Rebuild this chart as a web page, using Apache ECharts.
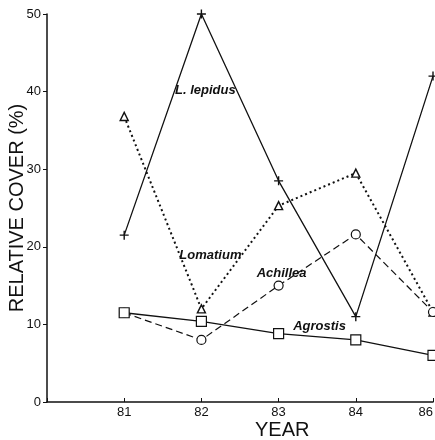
<!DOCTYPE html>
<html>
<head>
<meta charset="utf-8">
<script src="https://cdn.jsdelivr.net/npm/echarts@6/dist/echarts.min.js"></script>
<style>
  html, body { margin: 0; padding: 0; background: #fff; }
  #chart { width: 435px; height: 440px; }
</style>
</head>
<body>
<div id="chart"></div>
<script>
// years (first slot is the empty stretch before 81)
const years = ['', '81', '82', '83', '84', '86']
const lepidus = [null, 21.5, 50, 28.5, 11, 42]
const lomatium = [null, 36.8, 12, 25.3, 29.5, 11.6]
const achillea = [null, 11.5, 8, 15, 21.6, 11.6]
const agrostis = [null, 11.5, 10.4, 8.8, 8.0, 6.0]
const yTicks = [0, 10, 20, 30, 40, 50]

const ink = '#111'
const labelFont = { fontFamily: 'Liberation Sans', fontWeight: 'bold', fontStyle: 'italic', fontSize: 13, color: ink }

// series name label placed in data space
const tag = (text, coord, offset) => ({
  symbol: 'circle',
  symbolSize: 1,
  silent: true,
  itemStyle: { color: 'rgba(0,0,0,0)' },
  data: [{ coord: coord }],
  label: { show: true, position: 'inside', formatter: text, offset: offset, ...labelFont }
})

const plusPath = 'path://M5,0L5,10M0,5L10,5'

const chartInstance = echarts.init(document.getElementById('chart'))
const chartSet = {
  animation: false,
  backgroundColor: '#fff',
  textStyle: { fontFamily: 'Liberation Sans' },
  grid: { left: 47, right: 2, top: 14, bottom: 38, containLabel: false, outerBoundsMode: 'none' },
  xAxis: {
    type: 'category',
    data: years,
    boundaryGap: false,
    axisLine: { lineStyle: { color: ink, width: 1.5 } },
    axisTick: { inside: true, length: 4, lineStyle: { color: ink } },
    axisLabel: { color: ink, fontSize: 13, margin: 4, fontFamily: 'Liberation Sans', alignMaxLabel: 'right' },
    splitLine: { show: false }
  },
  yAxis: {
    type: 'value',
    min: yTicks[0],
    max: yTicks[yTicks.length - 1],
    interval: 10,
    name: 'RELATIVE COVER (%)',
    nameLocation: 'middle',
    nameGap: 20,
    nameMoveOverlap: false,
    nameTextStyle: { fontSize: 20, color: ink, fontFamily: 'Liberation Sans' },
    axisLine: { show: true, lineStyle: { color: ink, width: 1.5 } },
    axisTick: { show: true, length: 4, lineStyle: { color: ink } },
    axisLabel: { color: ink, fontSize: 13, margin: 6, fontFamily: 'Liberation Sans' },
    splitLine: { show: false }
  },
  graphic: [{
    type: 'text',
    left: 255,
    top: 420,
    style: { text: 'YEAR', fontSize: 20, fill: ink, fontFamily: 'Liberation Sans' }
  }],
  series: [
    {
      name: 'L. lepidus',
      type: 'line',
      data: lepidus,
      symbol: plusPath,
      symbolSize: 9,
      showAllSymbol: true,
      itemStyle: { color: 'none', borderColor: ink, borderWidth: 1.4 },
      lineStyle: { color: ink, width: 1.3, type: 'solid' },
      markPoint: tag('L. lepidus', ['82', 40.2], [4, 0])
    },
    {
      name: 'Lomatium',
      type: 'line',
      data: lomatium,
      symbol: 'triangle',
      symbolSize: 8,
      showAllSymbol: true,
      itemStyle: { color: '#fff', borderColor: ink, borderWidth: 1.4 },
      lineStyle: { color: ink, width: 2, type: [2, 3] },
      markPoint: tag('Lomatium', ['82', 18.9], [9, 0])
    },
    {
      name: 'Achillea',
      type: 'line',
      data: achillea,
      symbol: 'circle',
      symbolSize: 9,
      showAllSymbol: true,
      itemStyle: { color: '#fff', borderColor: ink, borderWidth: 1.2 },
      lineStyle: { color: ink, width: 1.2, type: [7, 4] },
      markPoint: tag('Achillea', ['83', 16.6], [3, 0])
    },
    {
      name: 'Agrostis',
      type: 'line',
      data: agrostis,
      symbol: 'rect',
      symbolSize: 10,
      showAllSymbol: true,
      itemStyle: { color: '#fff', borderColor: ink, borderWidth: 1.2 },
      lineStyle: { color: ink, width: 1.3, type: 'solid' },
      z: 3,
      markPoint: tag('Agrostis', ['83', 9.7], [41, 0])
    }
  ]
}
chartInstance.setOption(chartSet)
</script>
</body>
</html>
